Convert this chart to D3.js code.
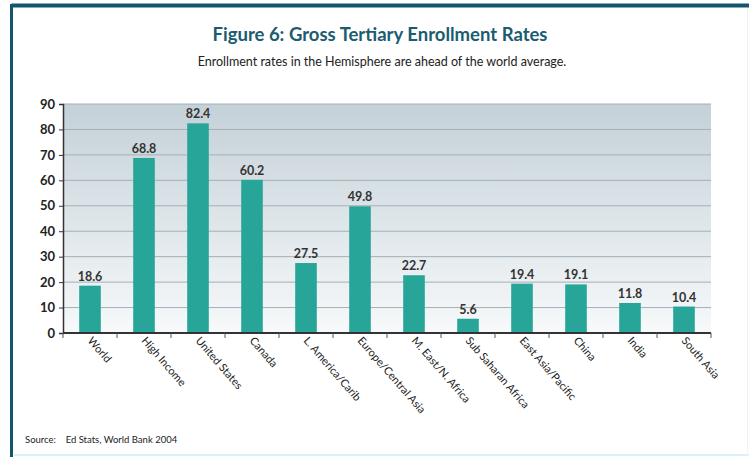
<!DOCTYPE html>
<html>
<head>
<meta charset="utf-8">
<script src="https://cdn.jsdelivr.net/npm/d3@7"></script>
<style>
  html, body { margin: 0; padding: 0; background: #fff; }
  svg { display: block; }
  text { font-family: "Lato", "Open Sans", sans-serif; }
</style>
</head>
<body>
<svg id="chart" width="749" height="457"></svg>
<script>
// Gross tertiary enrollment rates by region / country (%)
const categories = ["World", "High Income", "United States", "Canada", "L. America/Carib",
  "Europe/Central Asia", "M. East/N. Africa", "Sub Saharan Africa", "East Asia/Pacific",
  "China", "India", "South Asia"];
const rates = [18.6, 68.8, 82.4, 60.2, 27.5, 49.8, 22.7, 5.6, 19.4, 19.1, 11.8, 10.4];
const yTicks = [0, 10, 20, 30, 40, 50, 60, 70, 80, 90];

const svg = d3.select("#chart");
const W = 749, H = 457;
const plot = { left: 63, right: 711, top: 104, bottom: 333 };

// frame
svg.append("line").attr("x1", 11.5).attr("x2", W).attr("y1", 5.5).attr("y2", 5.5)
  .attr("stroke", "#11566a").attr("stroke-width", 4);
svg.append("line").attr("x1", 11.5).attr("x2", 11.5).attr("y1", 4).attr("y2", H)
  .attr("stroke", "#11566a").attr("stroke-width", 3);
svg.append("line").attr("x1", 14).attr("x2", W).attr("y1", 455).attr("y2", 455)
  .attr("stroke", "#d6f3f8").attr("stroke-width", 2);
svg.append("line").attr("x1", 747.5).attr("x2", 747.5).attr("y1", 8).attr("y2", H)
  .attr("stroke", "#eef3f5").attr("stroke-width", 1);

// titles
svg.append("text").attr("x", 380).attr("y", 41).attr("text-anchor", "middle")
  .attr("font-size", 18.5).attr("font-weight", 700).attr("fill", "#1b5c70")
  .text("Figure 6: Gross Tertiary Enrollment Rates");
svg.append("text").attr("x", 382).attr("y", 66).attr("text-anchor", "middle")
  .attr("font-size", 12.5).attr("fill", "#222")
  .text("Enrollment rates in the Hemisphere are ahead of the world average.");

const x = d3.scaleBand().domain(categories).range([plot.left, plot.right]).paddingInner(0.6).paddingOuter(0.3);
const y = d3.scaleLinear().domain([0, 90]).range([plot.bottom, plot.top]);

// plot background gradient
const defs = svg.append("defs");
const grad = defs.append("linearGradient").attr("id", "bg").attr("x1", 0).attr("x2", 0).attr("y1", 0).attr("y2", 1);
grad.append("stop").attr("offset", "0%").attr("stop-color", "#c4d1d8");
grad.append("stop").attr("offset", "100%").attr("stop-color", "#f7f9fa");
svg.append("rect").attr("x", plot.left).attr("y", plot.top)
  .attr("width", plot.right - plot.left).attr("height", plot.bottom - plot.top)
  .attr("fill", "url(#bg)");

// gridlines
svg.append("g").selectAll("line").data(yTicks.filter(d => d > 0)).join("line")
  .attr("x1", plot.left).attr("x2", plot.right)
  .attr("y1", d => y(d)).attr("y2", d => y(d))
  .attr("stroke", "#a4b0b6").attr("stroke-width", 1);

// bars
svg.append("g").selectAll("rect").data(rates).join("rect")
  .attr("x", (d, i) => x(categories[i]))
  .attr("y", d => y(d))
  .attr("width", x.bandwidth())
  .attr("height", d => y(0) - y(d))
  .attr("fill", "#27a598");

// value labels
svg.append("g").selectAll("text").data(rates).join("text")
  .attr("x", (d, i) => x(categories[i]) + x.bandwidth() / 2)
  .attr("y", d => y(d) - 5)
  .attr("text-anchor", "middle")
  .attr("font-size", 12.5).attr("font-weight", 700).attr("fill", "#333")
  .text(d => d.toFixed(1));

// y axis
const yAxis = svg.append("g").attr("transform", `translate(${plot.left},0)`)
  .call(d3.axisLeft(y).tickValues(yTicks).tickSize(4).tickPadding(4));
yAxis.select(".domain").attr("stroke", "#333").attr("stroke-width", 1.5);
yAxis.selectAll(".tick line").attr("stroke", "#333");
yAxis.selectAll(".tick text").attr("font-size", 13).attr("font-weight", 700)
  .attr("fill", "#222").style("font-family", "Lato, sans-serif");

// x axis: ticks sit on category boundaries
const boundaries = categories.map(c => x(c) - x.step() * x.paddingInner() / 2);
boundaries.push(plot.right);
const xg = svg.append("g");
xg.append("line").attr("x1", plot.left).attr("x2", plot.right)
  .attr("y1", plot.bottom).attr("y2", plot.bottom)
  .attr("stroke", "#333").attr("stroke-width", 2);
xg.selectAll("line.tk").data(boundaries).join("line").attr("class", "tk")
  .attr("x1", d => d).attr("x2", d => d)
  .attr("y1", plot.bottom).attr("y2", plot.bottom + 5)
  .attr("stroke", "#555");
xg.selectAll("text").data(categories).join("text")
  .attr("transform", c => `translate(${x(c) + x.bandwidth() / 2 - 3},${plot.bottom + 8}) rotate(49)`)
  .attr("text-anchor", "start")
  .attr("font-size", 11).attr("fill", "#222")
  .text(c => c);

// source
svg.append("text").attr("x", 25).attr("y", 443)
  .attr("font-size", 9.5).attr("fill", "#222")
  .attr("xml:space", "preserve")
  .text("Source:    Ed Stats, World Bank 2004");
</script>
</body>
</html>
